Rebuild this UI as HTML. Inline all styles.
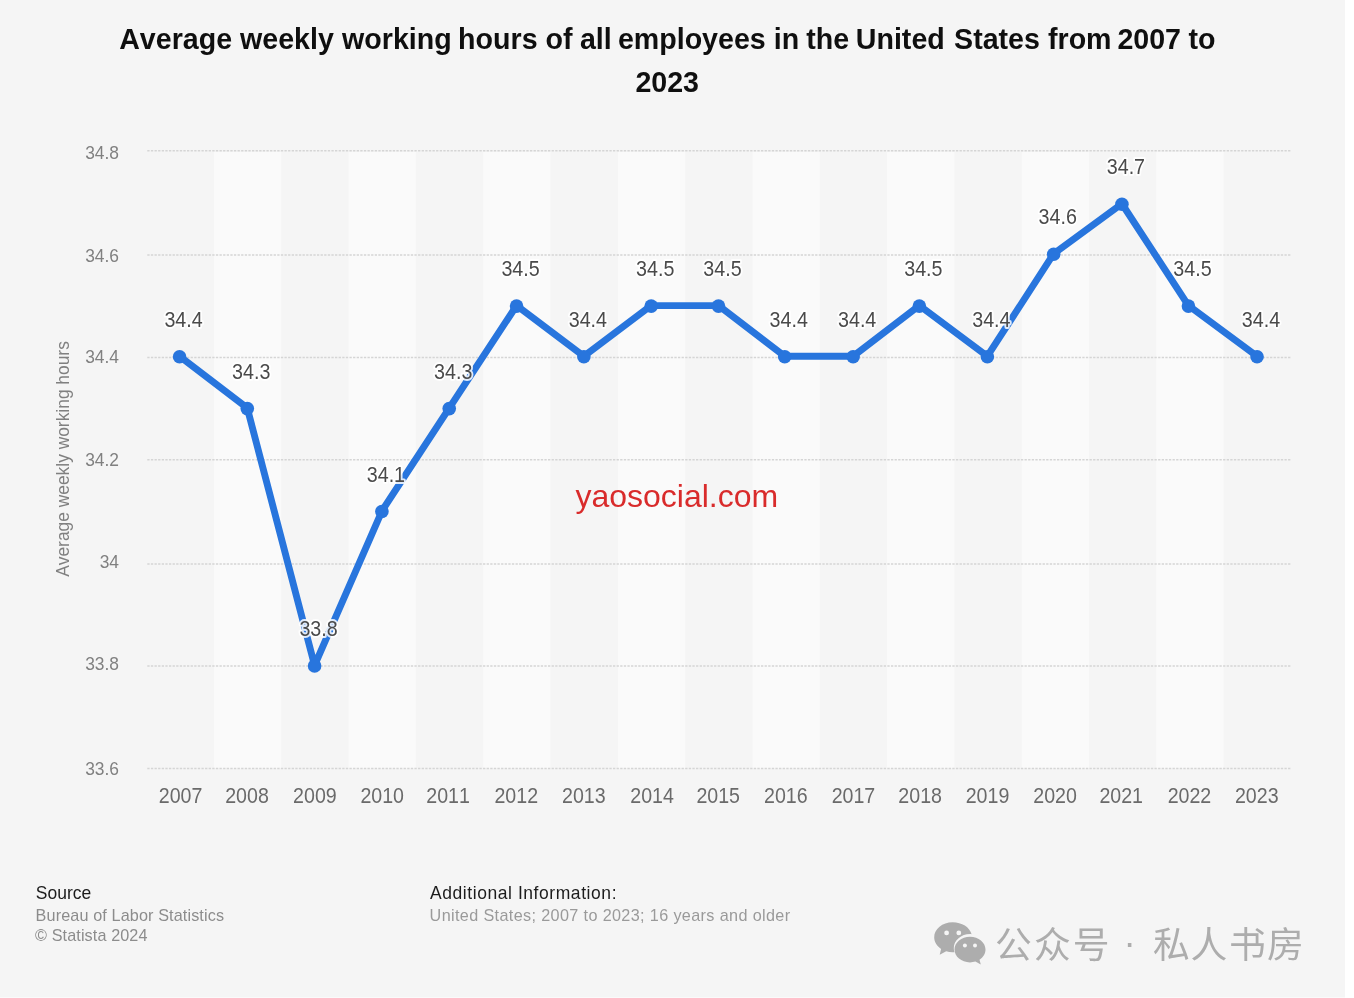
<!DOCTYPE html>
<html lang="en"><head><meta charset="utf-8"><title>Average weekly working hours of all employees in the United States from 2007 to 2023</title>
<style>html,body{margin:0;padding:0;background:#fff;}body{width:1354px;height:998px;overflow:hidden;position:relative;}svg{position:absolute;left:0;top:0;display:block;}text{font-family:"Liberation Sans", sans-serif;font-kerning:none;}.cjk{font-family:"Liberation Sans", "Noto Sans CJK SC", sans-serif;}</style></head><body>
<svg width="1354" height="998" viewBox="0 0 1354 998">
<rect x="0" y="0" width="1345" height="997.5" fill="#f5f5f5"/>
<g fill="#fafafa">
<rect x="213.92" y="152.05" width="67.32" height="616.45"/>
<rect x="348.55" y="152.05" width="67.32" height="616.45"/>
<rect x="483.19" y="152.05" width="67.32" height="616.45"/>
<rect x="617.82" y="152.05" width="67.32" height="616.45"/>
<rect x="752.46" y="152.05" width="67.32" height="616.45"/>
<rect x="887.09" y="152.05" width="67.32" height="616.45"/>
<rect x="1021.73" y="152.05" width="67.32" height="616.45"/>
<rect x="1156.36" y="152.05" width="67.32" height="616.45"/>
</g>
<g stroke="#d5d5d5" stroke-width="1.5" stroke-dasharray="2.3 1.31">
<line x1="147.30" y1="768.50" x2="1291.00" y2="768.50"/>
<line x1="147.30" y1="666.10" x2="1291.00" y2="666.10"/>
<line x1="147.30" y1="563.90" x2="1291.00" y2="563.90"/>
<line x1="147.30" y1="459.70" x2="1291.00" y2="459.70"/>
<line x1="147.30" y1="357.40" x2="1291.00" y2="357.40"/>
<line x1="147.30" y1="254.90" x2="1291.00" y2="254.90"/>
<line x1="147.30" y1="150.85" x2="1291.00" y2="150.85"/>
</g>
<text transform="translate(119.00,774.90) scale(1,1.040)" font-size="17.4" fill="#808080" text-anchor="end">33.6</text>
<text transform="translate(119.00,670.10) scale(1,1.040)" font-size="17.4" fill="#808080" text-anchor="end">33.8</text>
<text transform="translate(119.00,567.50) scale(1,1.040)" font-size="17.4" fill="#808080" text-anchor="end">34</text>
<text transform="translate(119.00,465.90) scale(1,1.040)" font-size="17.4" fill="#808080" text-anchor="end">34.2</text>
<text transform="translate(119.00,362.90) scale(1,1.040)" font-size="17.4" fill="#808080" text-anchor="end">34.4</text>
<text transform="translate(119.00,261.50) scale(1,1.040)" font-size="17.4" fill="#808080" text-anchor="end">34.6</text>
<text transform="translate(119.00,158.55) scale(1,1.040)" font-size="17.4" fill="#808080" text-anchor="end">34.8</text>
<text transform="translate(68.60,459.00) rotate(-90) scale(1,1.060)" font-size="17.4" fill="#808080" text-anchor="middle">Average weekly working hours</text>
<text transform="translate(180.56,803.40) scale(1,1.090)" font-size="19.6" fill="#6a6a6a" text-anchor="middle">2007</text>
<text transform="translate(246.98,803.40) scale(1,1.090)" font-size="19.6" fill="#6a6a6a" text-anchor="middle">2008</text>
<text transform="translate(314.89,803.40) scale(1,1.090)" font-size="19.6" fill="#6a6a6a" text-anchor="middle">2009</text>
<text transform="translate(382.21,803.40) scale(1,1.090)" font-size="19.6" fill="#6a6a6a" text-anchor="middle">2010</text>
<text transform="translate(448.03,803.40) scale(1,1.090)" font-size="19.6" fill="#6a6a6a" text-anchor="middle">2011</text>
<text transform="translate(516.25,803.40) scale(1,1.090)" font-size="19.6" fill="#6a6a6a" text-anchor="middle">2012</text>
<text transform="translate(583.86,803.40) scale(1,1.090)" font-size="19.6" fill="#6a6a6a" text-anchor="middle">2013</text>
<text transform="translate(652.08,803.40) scale(1,1.090)" font-size="19.6" fill="#6a6a6a" text-anchor="middle">2014</text>
<text transform="translate(718.20,803.40) scale(1,1.090)" font-size="19.6" fill="#6a6a6a" text-anchor="middle">2015</text>
<text transform="translate(785.82,803.40) scale(1,1.090)" font-size="19.6" fill="#6a6a6a" text-anchor="middle">2016</text>
<text transform="translate(853.44,803.40) scale(1,1.090)" font-size="19.6" fill="#6a6a6a" text-anchor="middle">2017</text>
<text transform="translate(920.15,803.40) scale(1,1.090)" font-size="19.6" fill="#6a6a6a" text-anchor="middle">2018</text>
<text transform="translate(987.47,803.40) scale(1,1.090)" font-size="19.6" fill="#6a6a6a" text-anchor="middle">2019</text>
<text transform="translate(1055.09,803.40) scale(1,1.090)" font-size="19.6" fill="#6a6a6a" text-anchor="middle">2020</text>
<text transform="translate(1121.21,803.40) scale(1,1.090)" font-size="19.6" fill="#6a6a6a" text-anchor="middle">2021</text>
<text transform="translate(1189.42,803.40) scale(1,1.090)" font-size="19.6" fill="#6a6a6a" text-anchor="middle">2022</text>
<text transform="translate(1256.74,803.40) scale(1,1.090)" font-size="19.6" fill="#6a6a6a" text-anchor="middle">2023</text>
<polyline points="179.56,356.23 247.28,408.09 314.59,665.38 381.91,511.01 449.23,408.09 516.55,305.58 583.86,356.23 651.18,305.58 718.50,305.58 784.72,356.23 853.14,356.23 919.35,305.58 987.37,356.23 1053.69,253.72 1121.91,203.76 1188.42,305.58 1257.04,356.23" fill="none" stroke="#2875dd" stroke-width="6.9" stroke-linejoin="round" stroke-linecap="round"/>
<g fill="#2875dd">
<circle cx="179.56" cy="356.73" r="6.8"/>
<circle cx="247.28" cy="408.59" r="6.8"/>
<circle cx="314.59" cy="665.88" r="6.8"/>
<circle cx="381.91" cy="511.51" r="6.8"/>
<circle cx="449.23" cy="408.59" r="6.8"/>
<circle cx="516.55" cy="306.08" r="6.8"/>
<circle cx="583.86" cy="356.73" r="6.8"/>
<circle cx="651.18" cy="306.08" r="6.8"/>
<circle cx="718.50" cy="306.08" r="6.8"/>
<circle cx="784.72" cy="356.73" r="6.8"/>
<circle cx="853.14" cy="356.73" r="6.8"/>
<circle cx="919.35" cy="306.08" r="6.8"/>
<circle cx="987.37" cy="356.73" r="6.8"/>
<circle cx="1053.69" cy="254.22" r="6.8"/>
<circle cx="1121.91" cy="204.26" r="6.8"/>
<circle cx="1188.42" cy="306.08" r="6.8"/>
<circle cx="1257.04" cy="356.73" r="6.8"/>
</g>
<text transform="translate(183.56,326.83) scale(1,1.080)" font-size="19.7" fill="#4a4a4a" text-anchor="middle" stroke="#ffffff" stroke-opacity="0.85" stroke-width="3.6" stroke-linejoin="round" paint-order="stroke">34.4</text>
<text transform="translate(251.28,378.69) scale(1,1.080)" font-size="19.7" fill="#4a4a4a" text-anchor="middle" stroke="#ffffff" stroke-opacity="0.85" stroke-width="3.6" stroke-linejoin="round" paint-order="stroke">34.3</text>
<text transform="translate(318.59,635.98) scale(1,1.080)" font-size="19.7" fill="#4a4a4a" text-anchor="middle" stroke="#ffffff" stroke-opacity="0.85" stroke-width="3.6" stroke-linejoin="round" paint-order="stroke">33.8</text>
<text transform="translate(385.91,481.61) scale(1,1.080)" font-size="19.7" fill="#4a4a4a" text-anchor="middle" stroke="#ffffff" stroke-opacity="0.85" stroke-width="3.6" stroke-linejoin="round" paint-order="stroke">34.1</text>
<text transform="translate(453.23,378.69) scale(1,1.080)" font-size="19.7" fill="#4a4a4a" text-anchor="middle" stroke="#ffffff" stroke-opacity="0.85" stroke-width="3.6" stroke-linejoin="round" paint-order="stroke">34.3</text>
<text transform="translate(520.55,276.18) scale(1,1.080)" font-size="19.7" fill="#4a4a4a" text-anchor="middle" stroke="#ffffff" stroke-opacity="0.85" stroke-width="3.6" stroke-linejoin="round" paint-order="stroke">34.5</text>
<text transform="translate(587.86,326.83) scale(1,1.080)" font-size="19.7" fill="#4a4a4a" text-anchor="middle" stroke="#ffffff" stroke-opacity="0.85" stroke-width="3.6" stroke-linejoin="round" paint-order="stroke">34.4</text>
<text transform="translate(655.18,276.18) scale(1,1.080)" font-size="19.7" fill="#4a4a4a" text-anchor="middle" stroke="#ffffff" stroke-opacity="0.85" stroke-width="3.6" stroke-linejoin="round" paint-order="stroke">34.5</text>
<text transform="translate(722.50,276.18) scale(1,1.080)" font-size="19.7" fill="#4a4a4a" text-anchor="middle" stroke="#ffffff" stroke-opacity="0.85" stroke-width="3.6" stroke-linejoin="round" paint-order="stroke">34.5</text>
<text transform="translate(788.72,326.83) scale(1,1.080)" font-size="19.7" fill="#4a4a4a" text-anchor="middle" stroke="#ffffff" stroke-opacity="0.85" stroke-width="3.6" stroke-linejoin="round" paint-order="stroke">34.4</text>
<text transform="translate(857.14,326.83) scale(1,1.080)" font-size="19.7" fill="#4a4a4a" text-anchor="middle" stroke="#ffffff" stroke-opacity="0.85" stroke-width="3.6" stroke-linejoin="round" paint-order="stroke">34.4</text>
<text transform="translate(923.35,276.18) scale(1,1.080)" font-size="19.7" fill="#4a4a4a" text-anchor="middle" stroke="#ffffff" stroke-opacity="0.85" stroke-width="3.6" stroke-linejoin="round" paint-order="stroke">34.5</text>
<text transform="translate(991.37,326.83) scale(1,1.080)" font-size="19.7" fill="#4a4a4a" text-anchor="middle" stroke="#ffffff" stroke-opacity="0.85" stroke-width="3.6" stroke-linejoin="round" paint-order="stroke">34.4</text>
<text transform="translate(1057.69,224.32) scale(1,1.080)" font-size="19.7" fill="#4a4a4a" text-anchor="middle" stroke="#ffffff" stroke-opacity="0.85" stroke-width="3.6" stroke-linejoin="round" paint-order="stroke">34.6</text>
<text transform="translate(1125.91,174.36) scale(1,1.080)" font-size="19.7" fill="#4a4a4a" text-anchor="middle" stroke="#ffffff" stroke-opacity="0.85" stroke-width="3.6" stroke-linejoin="round" paint-order="stroke">34.7</text>
<text transform="translate(1192.42,276.18) scale(1,1.080)" font-size="19.7" fill="#4a4a4a" text-anchor="middle" stroke="#ffffff" stroke-opacity="0.85" stroke-width="3.6" stroke-linejoin="round" paint-order="stroke">34.5</text>
<text transform="translate(1261.04,326.83) scale(1,1.080)" font-size="19.7" fill="#4a4a4a" text-anchor="middle" stroke="#ffffff" stroke-opacity="0.85" stroke-width="3.6" stroke-linejoin="round" paint-order="stroke">34.4</text>
<text transform="translate(0.00,49.30) scale(1,1.045)" font-size="28.6" fill="#0f0f0f" font-weight="bold"><tspan x="119.2">Average </tspan><tspan x="240.0">weekly </tspan><tspan x="342.1">working </tspan><tspan x="458.1">hours </tspan><tspan x="545.5">of </tspan><tspan x="579.9">all </tspan><tspan x="617.9">employees </tspan><tspan x="773.7">in </tspan><tspan x="806.2">the </tspan><tspan x="855.8">United </tspan><tspan x="954.1">States </tspan><tspan x="1048.0">from </tspan><tspan x="1117.4">2007 </tspan><tspan x="1188.6">to</tspan></text>
<text transform="translate(667.20,92.20) scale(1,1.045)" font-size="28.6" fill="#0f0f0f" text-anchor="middle" font-weight="bold">2023</text>
<text transform="translate(676.80,506.50) scale(1,1.000)" font-size="32.0" fill="#d92b2b" text-anchor="middle">yaosocial.com</text>
<text transform="translate(35.80,899.30) scale(1,1.040)" font-size="17.5" fill="#1c1c1c">Source</text>
<text transform="translate(35.60,920.80) scale(1,1.000)" font-size="16.2" fill="#8c8c8c" textLength="188.4" lengthAdjust="spacing">Bureau of Labor Statistics</text>
<text transform="translate(35.00,941.20) scale(1,1.000)" font-size="16.2" fill="#8c8c8c" textLength="112.5" lengthAdjust="spacing">© Statista 2024</text>
<text transform="translate(430.00,899.20) scale(1,1.040)" font-size="17.5" fill="#1c1c1c" textLength="186.5" lengthAdjust="spacing">Additional Information:</text>
<text transform="translate(429.60,920.80) scale(1,1.000)" font-size="16.2" fill="#9a9a9a" textLength="360.5" lengthAdjust="spacing">United States; 2007 to 2023; 16 years and older</text>
<g id="wechat" fill="#adadad">
<path d="M952.6 922.3C942.4 922.3 934.2 929.1 934.2 937.3c0 4.700 2.700 8.900 6.900 11.700l-1.400 5.800 6.500-3.500c2 .6 4.200 1 6.400 1 .6 0 1.200 0 1.800-.1-.4-1.300-.600-2.600-.600-4 0-7.800 7.300-14.100 16.300-14.100.5 0 1 0 1.500.1C969.7 927.3 961.9 922.3 952.6 922.3z"/>
<path d="M985.5 949.6c0-7.100-6.900-12.800-15.500-12.800s-15.500 5.700-15.500 12.800 6.900 12.800 15.500 12.800c1.900 0 3.700-.3 5.400-.8l5.400 2.900-1.300-4.700c3.700-2.400 6-6.100 6-10.200z"/>
<circle cx="946.6" cy="932.9" r="2.4" fill="#f5f5f5"/><circle cx="958.8" cy="932.9" r="2.4" fill="#f5f5f5"/>
<circle cx="964.9" cy="945.5" r="2.0" fill="#f5f5f5"/><circle cx="975" cy="945.5" r="2.0" fill="#f5f5f5"/>
</g>
<text class="cjk" font-size="36.8" fill="#adadad" x="995.1 1034.0 1072.8 1112.0 1123.4 1140.0 1153.0 1190.6 1228.9 1266.9" y="957.5 957.5 957.5 957.5 955.0 957.5 957.5 957.5 957.5 957.5">公众号 · 私人书房</text>
</svg></body></html>
